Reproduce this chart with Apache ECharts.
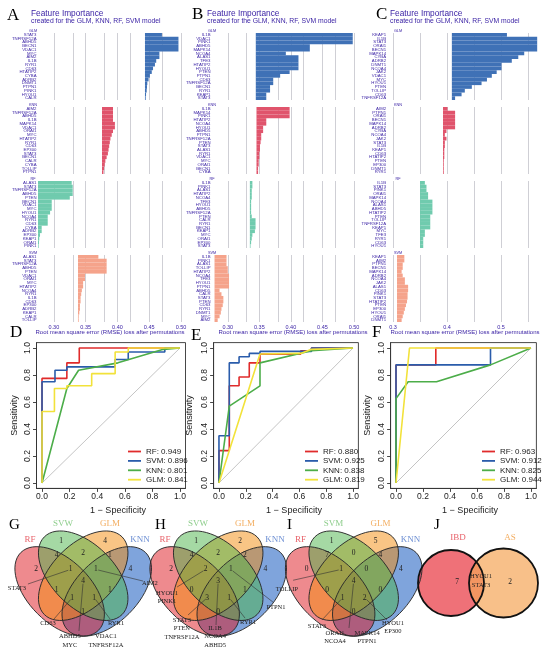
<!DOCTYPE html>
<html>
<head>
<meta charset="utf-8">
<title>Feature importance, ROC and Venn</title>
<script src="https://cdn.jsdelivr.net/npm/echarts@6.0.0/dist/echarts.min.js"></script>
<style>
html, body { margin: 0; padding: 0; background: #fff; }
#main { width: 550px; height: 654px; }
</style>
</head>
<body>
<div id="main"></div>
<script>
// ---------- A/B/C: permutation feature importance (top item first) ----------
var models = ['GLM', 'KNN', 'RF', 'SVM'];

var genesA_GLM = ['STAT3','TNFRSF12A','ABHD5','BECN1','VDAC1','MYC','AIM2','IL1B','RYR1','CD63','HTATIP2','CYBA','ADRB2','DNMT1','PTPN1','PINK1','HYOU1','CALR'];
var lossA_GLM = [0.470,0.496,0.496,0.496,0.496,0.466,0.466,0.461,0.459,0.456,0.454,0.451,0.449,0.447,0.4465,0.446,0.445,0.4445];
var baseA_GLM = 0.4433;
var genesA_KNN = ['AIM2','TNFRSF12A','ABHD5','IL1B','MAPK14','VDAC1','ORAI1','MYC','HTATIP2','RYR1','CD63','EP300','STAT3','BECN1','CALR','CYBA','TOLLIP','PTPN1'];
var lossA_KNN = [0.393,0.393,0.393,0.393,0.396,0.396,0.393,0.391,0.389,0.388,0.387,0.386,0.385,0.383,0.381,0.380,0.379,0.378];
var baseA_KNN = 0.3757;
var genesA_RF = ['ALAS1','STAT3','TNFRSF12A','ABHD5','PTEN','BECN1','VDAC1','MYC','HYOU1','NCOA4','RYR1','CD63','CYBA','ADRB2','EP300','KEAP1','ORAI1','PINK1'];
var lossA_RF = [0.328,0.3296,0.3296,0.3296,0.325,0.2966,0.2966,0.2966,0.294,0.2903,0.2903,0.2903,0.2808,0.2808,0.2782,0.277,0.2765,0.276];
var baseA_RF = 0.275;
var genesA_SVM = ['ALAS1','STAT3','TNFRSF12A','ABHD5','PTEN','VDAC1','ORAI1','MYC','HTATIP2','NCOA4','RYR1','IL1B','CD63','EP300','ADRB2','KEAP1','CALR','TOLLIP'];
var lossA_SVM = [0.370,0.383,0.383,0.383,0.383,0.349,0.349,0.346,0.346,0.344,0.343,0.342,0.342,0.341,0.341,0.340,0.339,0.339];
var baseA_SVM = 0.3379;

var genesB_GLM = ['IL1B','VDAC1','PINK1','ABHD5','MAPK14','NCOA4','ALAS1','TFE3','HTATIP2','HYOU1','PTEN','PTPN1','CD63','TNFRSF12A','BECN1','RYR1','KEAP1','STAT3'];
var lossB_GLM = [0.498,0.498,0.498,0.430,0.430,0.392,0.412,0.412,0.412,0.412,0.398,0.383,0.372,0.372,0.367,0.367,0.361,0.361];
var baseB_GLM = 0.3444;
var genesB_KNN = ['IL1B','MAPK14','PINK1','HTATIP2','NCOA4','HYOU1','ABHD5','PTPN1','TNFRSF12A','PTEN','STAT3','ALAS1','RYR1','VDAC1','MYC','ORAI1','BECN1','CYBA'];
var lossB_KNN = [0.398,0.398,0.398,0.361,0.361,0.356,0.356,0.353,0.353,0.352,0.351,0.351,0.350,0.350,0.349,0.349,0.348,0.348];
var baseB_KNN = 0.3455;
var genesB_RF = ['IL1B','PINK1','ALAS1','HTATIP2','NCOA4','TFE3','HYOU1','ABHD5','TNFRSF12A','PTEN','CALR','RYR1','BECN1','KEAP1','MYC','ORAI1','EP300','STAT3'];
var lossB_RF = [0.339,0.339,0.338,0.338,0.338,0.337,0.337,0.337,0.337,0.338,0.344,0.344,0.344,0.343,0.339,0.338,0.337,0.336];
var baseB_RF = 0.335;
var genesB_SVM = ['IL1B','PINK1','ALAS1','TOLLIP','HTATIP2','NCOA4','TFE3','HYOU1','PTPN1','ABHD5','CALR','STAT3','PTEN','CD63','RYR1','DNMT1','MYC','AIM2'];
var lossB_SVM = [0.298,0.298,0.298,0.300,0.300,0.302,0.302,0.302,0.302,0.287,0.290,0.293,0.293,0.292,0.290,0.289,0.287,0.284];
var baseB_SVM = 0.279;

var genesC_GLM = ['KEAP1','IL1B','STAT3','ORAI1','BECN1','MAPK14','CYBA','ADRB2','DNMT1','NCOA4','JAK2','VDAC1','MYC','HYOU1','PTEN','TOLLIP','CD63','TNFRSF12A'];
var lossC_GLM = [0.511,0.567,0.567,0.567,0.567,0.543,0.532,0.520,0.501,0.501,0.492,0.483,0.474,0.464,0.446,0.433,0.427,0.415];
var baseC_GLM = 0.409;
var genesC_KNN = ['AIM2','PTPN1','ORAI1','BECN1','MAPK14','ADRB2','CYBA','NCOA4','JAK2','STAT3','IL1B','KEAP1','CD63','HTATIP2','PTEN','EP300','DNMT1','RYR1'];
var lossC_KNN = [0.401,0.415,0.415,0.415,0.415,0.415,0.399,0.396,0.399,0.396,0.396,0.395,0.395,0.395,0.394,0.394,0.394,0.394];
var baseC_KNN = 0.3926;
var genesC_RF = ['IL1B','STAT3','PINK1','ORAI1','MAPK14','NCOA4','ALAS1','ABHD5','HTATIP2','PTEN','TOLLIP','TNFRSF12A','KEAP1','MYC','TFE3','RYR1','CD63','HYOU1'];
var lossC_RF = [0.359,0.362,0.362,0.365,0.365,0.373,0.373,0.373,0.373,0.369,0.369,0.369,0.369,0.359,0.359,0.356,0.356,0.356];
var baseC_RF = 0.35;
var genesC_SVM = ['KEAP1','AIM2','PTPN1','BECN1','MAPK14','ADRB2','NCOA4','JAK2','ALAS1','CD63','PINK1','STAT3','HTATIP2','PTEN','EP300','HYOU1','ORAI1','DNMT1'];
var lossC_SVM = [0.321,0.321,0.318,0.318,0.316,0.318,0.322,0.322,0.328,0.328,0.327,0.327,0.326,0.324,0.322,0.320,0.318,0.316];
var baseC_SVM = 0.3074;

var gridTicksAB = [0.3,0.325,0.35,0.375,0.4,0.425,0.45,0.475,0.5];
var tickLabelsAB = [0.3,0.35,0.4,0.45,0.5];
var gridTicksC = [0.3,0.35,0.4,0.45,0.5,0.55];
var tickLabelsC = [0.3,0.4,0.5];

// ---------- D/E/F: ROC curves, points are [1 - specificity, sensitivity] ----------
var rocModels = ['RF', 'SVM', 'KNN', 'GLM'];
var rocD_RF  = [[0,0],[0,0.775],[0.18,0.775],[0.18,0.89],[0.27,0.89],[0.27,1],[1,1]];
var rocD_SVM = [[0,0],[0,0.75],[0.094,0.75],[0.094,0.835],[0.18,0.835],[0.18,0.86],[0.53,0.86],[0.53,0.915],[0.625,0.915],[0.625,0.97],[0.89,0.97],[0.89,1],[1,1]];
var rocD_KNN = [[0,0],[0.18,0.70],[0.265,0.835],[0.55,0.89],[0.88,0.99],[1,1]];
var rocD_GLM = [[0,0],[0,0.53],[0.09,0.53],[0.09,0.70],[0.18,0.70],[0.18,0.72],[0.36,0.72],[0.36,0.81],[0.53,0.81],[0.53,0.97],[0.625,0.97],[0.625,1],[1,1]];
var aucD = [0.949, 0.896, 0.801, 0.841];

var rocE_RF  = [[0,0],[0,0.24],[0.077,0.24],[0.077,0.72],[0.15,0.72],[0.15,0.785],[0.226,0.785],[0.226,0.89],[0.306,0.89],[0.306,0.955],[0.61,0.955],[0.61,0.98],[0.69,0.98],[0.69,1],[1,1]];
var rocE_SVM = [[0,0],[0,0.35],[0.077,0.35],[0.077,0.89],[0.15,0.89],[0.15,0.935],[0.226,0.935],[0.226,0.96],[0.306,0.96],[0.306,0.975],[0.69,0.975],[0.69,1],[1,1]];
var rocE_KNN = [[0,0],[0.077,0.57],[0.306,0.72],[0.306,0.89],[0.69,0.98],[1,1]];
var rocE_GLM = [[0,0],[0.306,0.955],[0.61,0.96],[0.69,0.99],[1,1]];
var aucE = [0.880, 0.925, 0.838, 0.819];

var rocF_RF  = [[0,0],[0,0.875],[0.295,0.875],[0.295,1],[1,1]];
var rocF_SVM = [[0,0],[0,0.875],[0.7,0.875],[0.7,1],[1,1]];
var rocF_KNN = [[0,0],[0,0.625],[0.09,0.75],[0.3,0.75],[0.7,0.875],[1,1]];
var rocF_GLM = [[0,0],[0.1,1],[1,1]];
var aucF = [0.963, 0.912, 0.825, 0.944];

var chanceLine = [[0,0],[1,1]];
var rocTicks = [0,0.2,0.4,0.6,0.8,1];

// ---------- G/H/I/J: Venn diagrams ----------
// region order: RF, SVW, GLM, KNN, RF&SVW, SVW&GLM, GLM&KNN, RF&SVW&GLM, SVW&GLM&KNN,
//               RF&GLM, SVW&KNN, all four, RF&GLM&KNN, RF&SVW&KNN, RF&KNN
var vennG_sets = ['RF','SVW','GLM','KNN'];
var vennG_counts = [2,1,4,4,4,2,1,1,1,1,1,4,1,1,1];
var vennG_genes = [['STAT3'], ['AIM2'], ['CD63'], ['RYR1'], ['ABHD5','MYC','VDAC1','TNFRSF12A']];
var vennH_sets = ['RF','SVW','GLM','KNN'];
var vennH_counts = [2,1,2,4,4,2,2,2,1,0,1,3,3,1,0];
var vennH_genes = [['HYOU1','PINK1'], ['PTPN1'], ['STAT3','PTEN','TNFRSF12A'], ['IL1B','NCOA4','ABHD5'], ['RYR1']];
var vennI_sets = ['RF','SVM','GLM','KNN'];
var vennI_counts = [0,1,5,4,7,0,4,1,0,0,0,4,1,2,0];
var vennI_genes = [['TOLLIP'], ['STAT3'], ['ORAI1','NCOA4','MAPK14','PTPN1'], ['HYOU1','EP300']];
var vennJ_sets = ['IBD','AS'];
var vennJ_counts = [7, 2];
var vennJ_shared = ['HYOU1','STAT3'];

// ---------- layout ----------
var SANS = '"Liberation Sans", Arial, sans-serif';
var SERIF = '"Liberation Serif", "Times New Roman", serif';
var INK = '#371ea3';
var fiColors = ['#3f71b6', '#e0546c', '#70cbae', '#f5a38b'];
var rocColors = ['#e02b2b', '#2a5cab', '#4cad49', '#f2e23a'];
var subTops = [33, 107, 181, 255], subH = 67;

var fiPanels = [
  {left: 38, width: 143, min: 0.275, max: 0.5, ticks: gridTicksAB, labels: tickLabelsAB, digits: 2, stripX: 33,
   genes: [genesA_GLM, genesA_KNN, genesA_RF, genesA_SVM], loss: [lossA_GLM, lossA_KNN, lossA_RF, lossA_SVM],
   base: [baseA_GLM, baseA_KNN, baseA_RF, baseA_SVM]},
  {left: 212, width: 142, min: 0.275, max: 0.5, ticks: gridTicksAB, labels: tickLabelsAB, digits: 2, stripX: 212,
   genes: [genesB_GLM, genesB_KNN, genesB_RF, genesB_SVM], loss: [lossB_GLM, lossB_KNN, lossB_RF, lossB_SVM],
   base: [baseB_GLM, baseB_KNN, baseB_RF, baseB_SVM]},
  {left: 387.6, width: 151.2, min: 0.29, max: 0.57, ticks: gridTicksC, labels: tickLabelsC, digits: 1, stripX: 398,
   genes: [genesC_GLM, genesC_KNN, genesC_RF, genesC_SVM], loss: [lossC_GLM, lossC_KNN, lossC_RF, lossC_SVM],
   base: [baseC_GLM, baseC_KNN, baseC_RF, baseC_SVM]}
];

var rocPanels = [
  {left: 36.5, width: 149, curves: [rocD_RF, rocD_SVM, rocD_KNN, rocD_GLM], auc: aucD, legendLeft: 128, yNameX: 15, xNameX: 118},
  {left: 213.6, width: 144.8, curves: [rocE_RF, rocE_SVM, rocE_KNN, rocE_GLM], auc: aucE, legendLeft: 305, yNameX: 190, xNameX: 294},
  {left: 390.6, width: 145.8, curves: [rocF_RF, rocF_SVM, rocF_KNN, rocF_GLM], auc: aucF, legendLeft: 482, yNameX: 368, xNameX: 470}
];
var rocTop = 342.6, rocH = 145.8;

function txt(x, y, s, size, color, family, align, extra) {
  var el = {type: 'text', x: x, y: y, silent: true, z: 20,
    style: {text: s, fontSize: size, fontFamily: family || SANS, fill: color || '#000',
            align: align || 'left', verticalAlign: 'middle', lineHeight: size * 1.2}};
  if (extra) { for (var k in extra) { el[k] = extra[k]; } }
  return el;
}

var grids = [], xAxes = [], yAxes = [], series = [], legends = [], graphics = [];

// titles
graphics.push(txt(7, 16, 'A', 17, '#000', SERIF));
graphics.push(txt(192, 15, 'B', 17, '#000', SERIF));
graphics.push(txt(376, 15, 'C', 17, '#000', SERIF));
[31, 207, 390].forEach(function (x) {
  graphics.push(txt(x, 13.5, 'Feature Importance', 8.3, INK));
  graphics.push(txt(x, 21.5, 'created for the GLM, KNN, RF, SVM model', 6.8, INK));
});
[110, 293, 465].forEach(function (x) {
  graphics.push(txt(x, 332, 'Root mean square error (RMSE) loss after permutations', 6, INK, SANS, 'center'));
});

fiPanels.forEach(function (p) {
  models.forEach(function (m, mi) {
    var k = grids.length;
    var base = p.base[mi];
    grids.push({left: p.left, top: subTops[mi], width: p.width, height: subH, outerBoundsMode: 'none'});
    xAxes.push({
      type: 'value', gridIndex: k, min: p.min, max: p.max,
      axisLine: {show: false},
      axisTick: {show: false},
      splitLine: {show: false},
      axisLabel: {show: m === 'SVM', customValues: p.labels, fontSize: 5.5, color: INK, margin: 2.5, fontFamily: SANS,
                  formatter: function (v) { return v.toFixed(p.digits); }}
    });
    yAxes.push({
      type: 'category', gridIndex: k, inverse: true, data: p.genes[mi],
      axisLine: {show: false}, axisTick: {show: false}, splitLine: {show: false},
      axisLabel: {interval: 0, fontSize: 4.3, color: INK, margin: 1.5, fontFamily: SANS}
    });
    // invisible offset up to the full-model loss; vertical grid lines hang off it, behind the bars
    series.push({type: 'bar', xAxisIndex: k, yAxisIndex: k, stack: 'fi' + k, silent: true, barCategoryGap: '0%', z: 2,
      itemStyle: {color: 'rgba(0,0,0,0)'}, data: p.loss[mi].map(function () { return base; }),
      markLine: {silent: true, z: 1, symbol: ['none', 'none'], label: {show: false}, animation: false,
                 lineStyle: {color: '#cfcfd5', type: 'solid', width: 1, opacity: 1},
                 emphasis: {disabled: true},
                 data: p.ticks.map(function (t) { return {xAxis: t}; })}});
    series.push({type: 'bar', xAxisIndex: k, yAxisIndex: k, stack: 'fi' + k, silent: true, barCategoryGap: '0%', z: 3,
      itemStyle: {color: fiColors[mi]}, data: p.loss[mi].map(function (v) { return +(v - base).toFixed(4); })});
    graphics.push(txt(p.stripX, subTops[mi] - 1.8, m, 3.8, INK, SANS, 'center'));
  });
});

// ROC panels
var letters = [['D', 10, 333], ['E', 191, 336], ['F', 372, 333]];
rocPanels.forEach(function (p, pi) {
  var k = grids.length;
  grids.push({left: p.left, top: rocTop, width: p.width, height: rocH, show: true,
              borderColor: '#333', borderWidth: 0.9, backgroundColor: 'transparent', outerBoundsMode: 'none'});
  var axisCommon = function (rot) {
    return {
      type: 'value', gridIndex: k, min: -0.04, max: 1.04,
      axisLine: {show: true, onZero: false, lineStyle: {color: '#333', width: 0.9}},
      axisTick: {show: true, customValues: rocTicks, length: 3.5, lineStyle: {color: '#333', width: 0.9}},
      splitLine: {show: false},
      axisLabel: {customValues: rocTicks, fontSize: 8.5, color: '#222', fontFamily: SANS, margin: 4, rotate: rot,
                  formatter: function (v) { return v.toFixed(1); }}
    };
  };
  xAxes.push(axisCommon(0));
  yAxes.push(axisCommon(90));
  series.push({type: 'line', xAxisIndex: k, yAxisIndex: k, data: chanceLine, symbol: 'none', silent: true,
               lineStyle: {color: '#b5b5b5', width: 0.8}, z: 1});
  var names = [];
  p.curves.forEach(function (c, j) {
    var name = rocModels[j] + ': ' + p.auc[j].toFixed(3);
    names.push(name);
    series.push({type: 'line', name: name, xAxisIndex: k, yAxisIndex: k, data: c, symbol: 'none', silent: true,
                 lineStyle: {color: rocColors[j], width: 1.6}, itemStyle: {color: rocColors[j]}, z: 2 + j});
  });
  legends.push({orient: 'vertical', left: p.legendLeft, top: 447.5, data: names, icon: 'rect',
                itemWidth: 13, itemHeight: 1.8, itemGap: 1.4, padding: 0, selectedMode: false,
                textStyle: {fontSize: 8, lineHeight: 8, color: '#222', fontFamily: SANS}});
  graphics.push(txt(letters[pi][1], letters[pi][2], letters[pi][0], 17, '#000', SERIF));
  graphics.push(txt(p.yNameX, rocTop + rocH / 2, 'Sensitivity', 9, '#222', SANS, 'center', {rotation: Math.PI / 2}));
  graphics.push(txt(p.xNameX, 511, '1 \u2212 Specificity', 9, '#222', SANS, 'center'));
});

// Venn (4 sets), unit square layout scaled to pixels
var VS = 157, VY = 665.2;
var vennOrigins = [4.7, 139.7, 275.2];
var setColors = ['rgba(221,21,29,0.5)', 'rgba(75,179,73,0.5)', 'rgba(243,139,11,0.5)', 'rgba(0,73,185,0.5)'];
var setLabelColors = ['#e8636b', '#8fce8d', '#f3ae62', '#6d8fd3'];
var ellipseGeom = [[0.35, 0.47, -1], [0.5, 0.57, -1], [0.5, 0.57, 1], [0.65, 0.47, 1]];
var fillOrder = [3, 0, 2, 1];
var setLabelPos = [[0.161, 0.797], [0.371, 0.899], [0.671, 0.899], [0.862, 0.797]];
var regionPos = [[0.2,0.61],[0.36,0.79],[0.64,0.79],[0.8,0.61],[0.33,0.70],[0.5,0.715],[0.67,0.70],
                 [0.42,0.61],[0.58,0.61],[0.33,0.48],[0.67,0.48],[0.5,0.535],[0.43,0.43],[0.57,0.43],[0.5,0.34]];
// gene call-outs: region index, text centre, leader start, columns
var noteLayoutG = [{r: 7, at: [0.078,0.492], from: [0.148,0.517], cols: 1},
                   {r: 8, at: [0.925,0.524], from: [0.881,0.536], cols: 1},
                   {r: 12, at: [0.276,0.269], from: [0.314,0.294], cols: 1},
                   {r: 13, at: [0.709,0.269], from: [0.671,0.294], cols: 1},
                   {r: 11, at: [0.53,0.157], from: [0.473,0.218], cols: 2, gap: 36}];
var noteLayoutH = [{r: 7, at: [0.174,0.431], from: [0.238,0.498], cols: 1},
                   {r: 8, at: [0.868,0.37], from: [0.849,0.402], cols: 1},
                   {r: 12, at: [0.269,0.234], from: [0.308,0.32], cols: 1},
                   {r: 11, at: [0.48,0.183], from: [0.486,0.256], cols: 1},
                   {r: 13, at: [0.69,0.275], from: [0.671,0.3], cols: 1}];
var noteLayoutI = [{r: 7, at: [0.075,0.485], from: [0.114,0.541], cols: 1},
                   {r: 12, at: [0.266,0.25], from: [0.298,0.288], cols: 1},
                   {r: 11, at: [0.483,0.179], from: [0.47,0.237], cols: 2, gap: 32},
                   {r: 13, at: [0.75,0.243], from: [0.712,0.288], cols: 1}];

var venns = [
  {sets: vennG_sets, counts: vennG_counts, genes: vennG_genes, notes: noteLayoutG, letter: ['G', 9, 525]},
  {sets: vennH_sets, counts: vennH_counts, genes: vennH_genes, notes: noteLayoutH, letter: ['H', 155, 525]},
  {sets: vennI_sets, counts: vennI_counts, genes: vennI_genes, notes: noteLayoutI, letter: ['I', 287, 525]}
];

venns.forEach(function (v, vi) {
  var x0 = vennOrigins[vi];
  var px = function (u) { return x0 + u * VS; };
  var py = function (w) { return VY - w * VS; };
  fillOrder.forEach(function (s) {
    var g = ellipseGeom[s];
    graphics.push({type: 'ellipse', x: px(g[0]), y: py(g[1]), rotation: g[2] * Math.PI / 4, silent: true, z: 5,
                   shape: {cx: 0, cy: 0, rx: 0.35 * VS, ry: 0.2 * VS}, style: {fill: setColors[s]}});
  });
  ellipseGeom.forEach(function (g) {
    graphics.push({type: 'ellipse', x: px(g[0]), y: py(g[1]), rotation: g[2] * Math.PI / 4, silent: true, z: 6,
                   shape: {cx: 0, cy: 0, rx: 0.35 * VS, ry: 0.2 * VS},
                   style: {fill: 'none', stroke: '#2a2a2a', lineWidth: 0.9}});
  });
  v.sets.forEach(function (name, s) {
    graphics.push(txt(px(setLabelPos[s][0]), py(setLabelPos[s][1]), name, 9, setLabelColors[s], SERIF, 'center'));
  });
  v.counts.forEach(function (c, r) {
    graphics.push(txt(px(regionPos[r][0]), py(regionPos[r][1]), String(c), 7.5, '#222', SERIF, 'center'));
  });
  v.notes.forEach(function (n, ni) {
    var genes = v.genes[ni];
    var target = regionPos[n.r];
    var fx = px(n.from[0]), fy = py(n.from[1]);
    var tx = px(target[0]), ty = py(target[1]);
    var d = Math.sqrt((tx - fx) * (tx - fx) + (ty - fy) * (ty - fy));
    tx = tx - (tx - fx) / d * 2.5; ty = ty - (ty - fy) / d * 2.5;
    graphics.push({type: 'line', silent: true, z: 8, shape: {x1: fx, y1: fy, x2: tx, y2: ty},
                   style: {stroke: '#333', lineWidth: 0.6}});
    var per = Math.ceil(genes.length / n.cols);
    for (var c = 0; c < n.cols; c++) {
      var part = genes.slice(c * per, (c + 1) * per);
      var cx = px(n.at[0]) + (c - (n.cols - 1) / 2) * (n.gap || 0);
      var el = txt(cx, py(n.at[1]), part.join('\n'), 6.5, '#222', SERIF, 'center');
      el.style.lineHeight = 8.5;
      graphics.push(el);
    }
  });
  graphics.push(txt(v.letter[1], v.letter[2], v.letter[0], 15, '#000', SERIF));
});

// J: two-set Venn
var jCircles = [[451, 583, 33, 'rgba(232,52,62,0.7)'], [503.5, 583, 34.5, 'rgba(245,165,87,0.7)']];
jCircles.forEach(function (c) {
  graphics.push({type: 'circle', silent: true, z: 5, shape: {cx: c[0], cy: c[1], r: c[2]}, style: {fill: c[3]}});
});
jCircles.forEach(function (c) {
  graphics.push({type: 'circle', silent: true, z: 6, shape: {cx: c[0], cy: c[1], r: c[2]},
                 style: {fill: 'none', stroke: '#111', lineWidth: 1.8}});
});
graphics.push(txt(458, 538, vennJ_sets[0], 9, '#e8636b', SERIF, 'center'));
graphics.push(txt(510, 538, vennJ_sets[1], 9, '#f3ae62', SERIF, 'center'));
graphics.push(txt(457, 582, String(vennJ_counts[0]), 7.5, '#222', SERIF, 'center'));
graphics.push(txt(510, 582, String(vennJ_counts[1]), 7.5, '#222', SERIF, 'center'));
(function () {
  var el = txt(481, 581, vennJ_shared.join('\n'), 6.5, '#222', SERIF, 'center');
  el.style.lineHeight = 8.5;
  graphics.push(el);
})();
graphics.push(txt(434, 525, 'J', 15, '#000', SERIF));

var chart = echarts.init(document.getElementById('main'), null, {renderer: 'canvas'});
chart.setOption({
  animation: false,
  backgroundColor: '#fff',
  grid: grids,
  xAxis: xAxes,
  yAxis: yAxes,
  legend: legends,
  series: series,
  graphic: graphics
});
</script>
</body>
</html>
